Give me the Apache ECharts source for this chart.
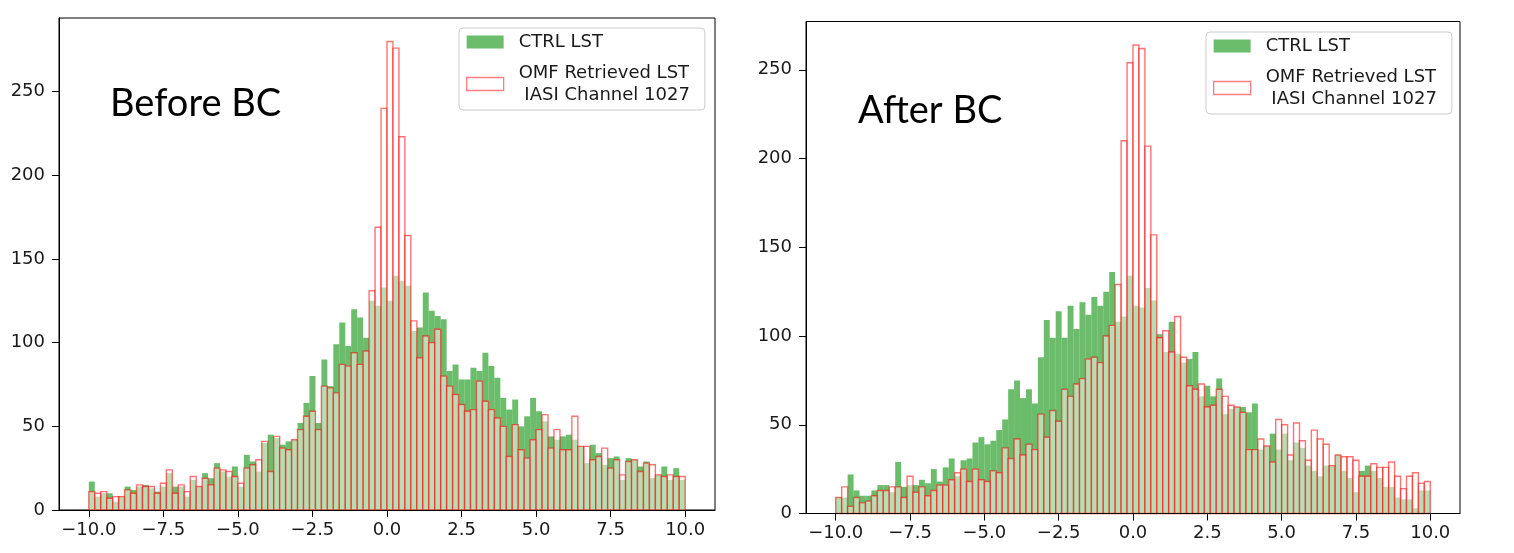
<!DOCTYPE html>
<html>
<head>
<meta charset="utf-8">
<title>CTRL vs OMF LST histograms</title>
<script src="https://cdn.jsdelivr.net/npm/echarts@6/dist/echarts.min.js"></script>
<style>
  html, body { margin: 0; padding: 0; background: #fff; }
  #chart { width: 1514px; height: 553px; }
</style>
</head>
<body>
<div id="chart"></div>
<script>
// histogram bins: 100 bins of 0.2 from -10 to 10
var binStart = -10;
var binWidth = 0.2;

// counts, one per bin
var beforeCtrl = [17,8,10,10,5,8,14,12,14,15, 13,11,14,22,14,14,8,18,14,22,
  19,28,23,20,26,14,33,29,23,40, 45,43,39,41,42,52,64,80,52,90,
  74,99,112,98,120,115,103,125,122,133, 125,140,137,134,107,109,130,119,116,114,
  83,87,78,78,85,83,94,86,79,67, 60,66,50,56,67,59,53,44,42,44,
  45,42,38,28,39,34,27,31,32,18, 31,30,26,29,19,21,26,18,25,18];
var beforeOmf = [11,10,11,7,8,8,12,10,15,14, 14,10,16,24,10,15,11,20,14,19,
  15,25,24,23,20,16,25,27,30,41, 23,44,37,36,42,48,56,59,48,74,
  73,70,87,86,94,87,95,131,169,240, 280,276,223,164,113,91,104,100,108,80,
  74,69,63,59,60,77,65,60,55,50, 32,51,36,31,42,48,57,37,48,36,
  36,56,38,38,30,32,37,25,30,21, 29,30,23,28,27,21,20,21,20,20];
var afterCtrl = [9,9,22,13,10,10,13,16,16,12, 29,15,16,16,19,17,25,18,26,31,
  21,30,31,40,43,39,41,47,53,70, 75,65,70,62,88,109,99,114,99,117,
  104,119,112,122,117,125,136,108,111,134, 117,116,127,120,101,91,108,90,85,87,
  91,66,72,66,76,56,59,60,60,57, 62,36,38,45,36,45,30,40,37,27,
  24,21,27,27,33,24,20,12,24,27, 24,20,15,15,9,8,8,3,13,13];
var afterOmf = [9,15,4,9,6,7,10,13,13,15, 15,9,21,12,15,10,13,16,16,19,
  23,25,18,25,19,18,24,23,37,31, 42,33,39,36,56,43,58,52,70,66,
  73,76,87,88,85,100,106,129,210,254, 264,262,207,157,99,103,91,111,88,72,
  70,73,60,61,70,66,61,60,57,36, 36,42,38,29,53,50,33,51,41,30,
  47,42,39,27,33,32,32,30,21,21, 28,26,26,29,21,14,21,23,17,18];

var xTicks = [-10, -7.5, -5, -2.5, 0, 2.5, 5, 7.5, 10];
var yTicks = [0, 50, 100, 150, 200, 250];

var ctrlName = 'CTRL LST';
var omfName = 'OMF Retrieved LST\n IASI Channel 1027';
var green = 'rgba(44,160,44,0.7)';
var omfFill = 'rgba(255,255,255,0.5)';
var omfEdge = 'rgba(255,0,0,0.55)';
var tickFont = 'DejaVu Sans';

function toBins(values) {
  return values.map(function (v, i) {
    return [binStart + i * binWidth, binStart + (i + 1) * binWidth, v];
  });
}

function histSeries(name, values, axis, style) {
  return {
    name: name,
    type: 'custom',
    xAxisIndex: axis,
    yAxisIndex: axis,
    itemStyle: { color: style.fill },
    encode: { x: [0, 1], y: 2 },
    data: toBins(values),
    renderItem: function (params, api) {
      var p0 = api.coord([api.value(0), api.value(2)]);
      var p1 = api.coord([api.value(1), 0]);
      return {
        type: 'rect',
        shape: { x: p0[0], y: p0[1], width: p1[0] - p0[0], height: p1[1] - p0[1] },
        style: style
      };
    }
  };
}

function fmtX(v) {
  return (v < 0 ? '\u2212' : '') + Math.abs(v).toFixed(1);
}

function makeX(i) {
  return {
    type: 'value', gridIndex: i, min: -11, max: 11, z: 5,
    axisLine: { show: true, onZero: false, lineStyle: { color: '#000', width: 1 } },
    axisTick: { show: true, customValues: xTicks, length: 7, lineStyle: { color: '#000' } },
    axisLabel: { customValues: xTicks, formatter: fmtX, margin: 11, fontSize: 18, color: '#1a1a1a', fontFamily: tickFont },
    splitLine: { show: false }
  };
}

function makeY(i, max) {
  return {
    type: 'value', gridIndex: i, min: 0, max: max, z: 5,
    axisLine: { show: true, onZero: false, lineStyle: { color: '#000', width: 1 } },
    axisTick: { show: true, customValues: yTicks, length: 7, lineStyle: { color: '#000' } },
    axisLabel: { customValues: yTicks, margin: 14, fontSize: 18, color: '#1a1a1a', fontFamily: tickFont },
    splitLine: { show: false }
  };
}

function makeLegend(left, top) {
  return {
    left: left, top: top, orient: 'vertical', icon: 'rect',
    itemWidth: 37, itemHeight: 13, itemGap: 9,
    padding: [3, 15, 4, 7],
    backgroundColor: 'rgba(255,255,255,0.8)',
    borderColor: '#cccccc', borderWidth: 1, borderRadius: 4,
    selectedMode: false,
    textStyle: { fontFamily: tickFont, fontSize: 18, color: '#1a1a1a', lineHeight: 22, padding: [0, 0, 0, 10] },
    data: [
      { name: ctrlName, itemStyle: { color: green, borderWidth: 0 } },
      { name: omfName, itemStyle: { color: '#fff', borderColor: 'rgba(255,0,0,0.5)', borderWidth: 1.3 } }
    ]
  };
}

var ymaxL = Math.max.apply(null, beforeCtrl.concat(beforeOmf)) * 1.05;
var ymaxR = Math.max.apply(null, afterCtrl.concat(afterOmf)) * 1.05;

var myChart = echarts.init(document.getElementById('chart'));
var option = {
  animation: false,
  backgroundColor: '#fff',
  title: [
    { text: 'Before BC', left: 110, top: 85, padding: 0,
      textStyle: { fontFamily: 'Lato', fontSize: 38, fontWeight: 'normal', color: '#000' } },
    { text: 'After BC', left: 858, top: 92, padding: 0,
      textStyle: { fontFamily: 'Lato', fontSize: 38, fontWeight: 'normal', color: '#000' } }
  ],
  legend: [makeLegend(459, 28), makeLegend(1206, 32)],
  grid: [
    { left: 59, top: 18, width: 656, height: 492, show: true, borderColor: '#000', borderWidth: 1, backgroundColor: 'transparent' },
    { left: 806, top: 21.5, width: 654, height: 492, show: true, borderColor: '#000', borderWidth: 1, backgroundColor: 'transparent' }
  ],
  xAxis: [makeX(0), makeX(1)],
  yAxis: [makeY(0, ymaxL), makeY(1, ymaxR)],
  series: [
    histSeries(ctrlName, beforeCtrl, 0, { fill: green }),
    histSeries(omfName, beforeOmf, 0, { fill: omfFill, stroke: omfEdge, lineWidth: 1.4 }),
    histSeries(ctrlName, afterCtrl, 1, { fill: green }),
    histSeries(omfName, afterOmf, 1, { fill: omfFill, stroke: omfEdge, lineWidth: 1.4 })
  ]
};
myChart.setOption(option);
</script>
</body>
</html>
